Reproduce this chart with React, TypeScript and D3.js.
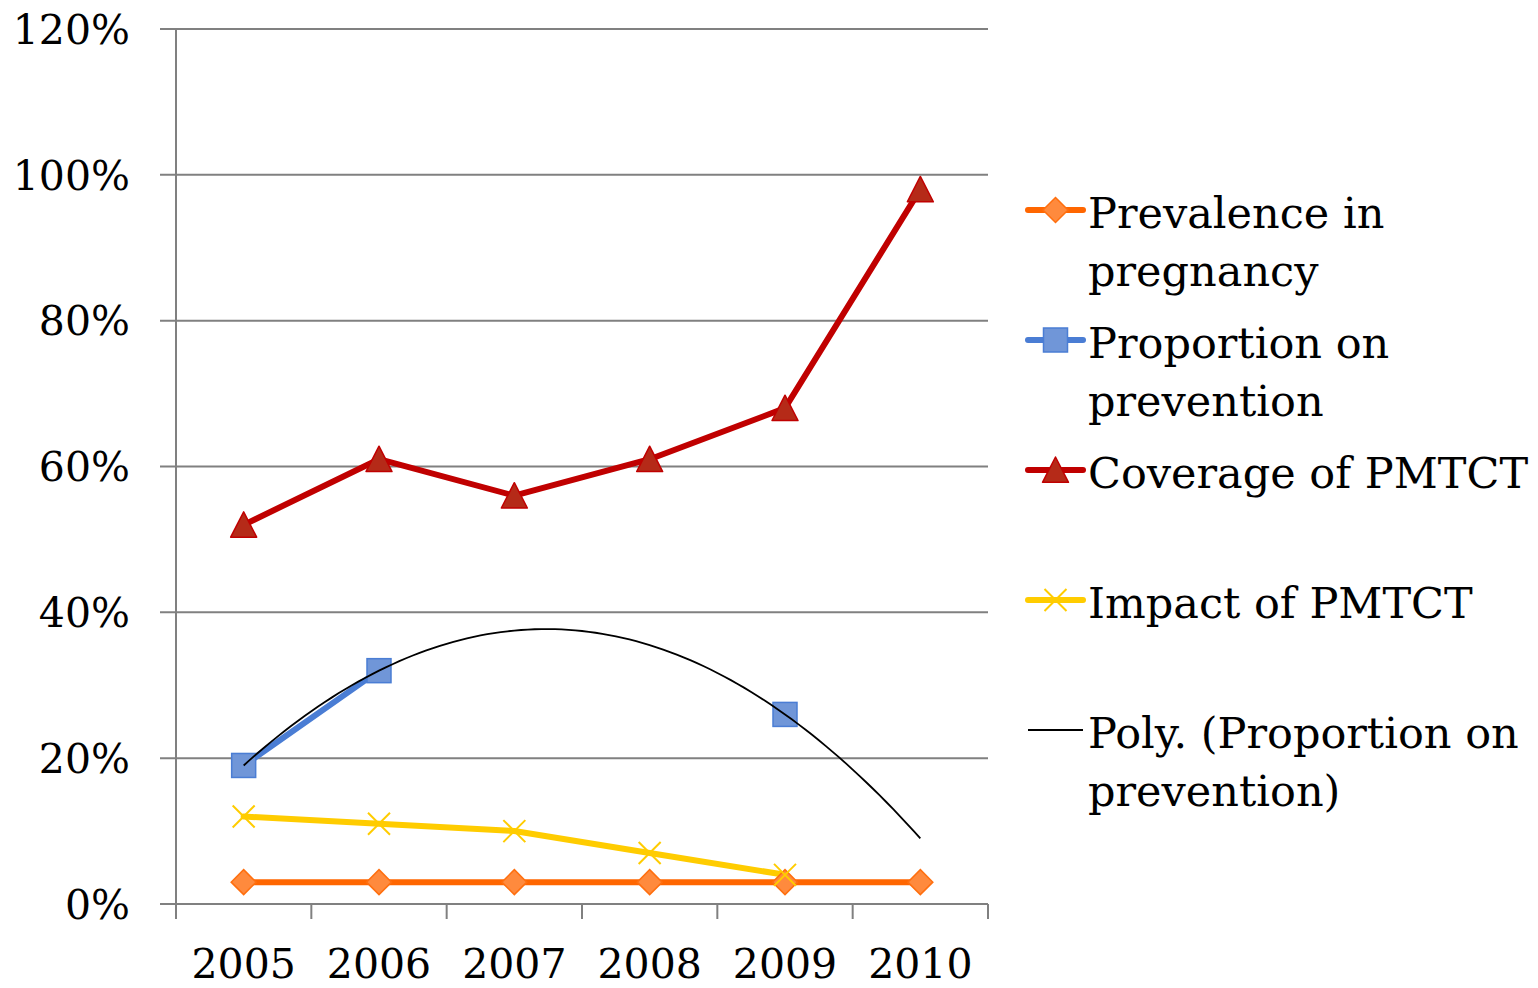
import React from "react";
import * as d3 from "d3";

const years = ["2005", "2006", "2007", "2008", "2009", "2010"];
const prevalence = [0.03, 0.03, 0.03, 0.03, 0.03, 0.03];
const proportion: (number | null)[] = [0.19, 0.32, null, null, 0.26, null];
const coverage = [0.52, 0.61, 0.56, 0.61, 0.68, 0.98];
const impact: (number | null)[] = [0.12, 0.11, 0.1, 0.07, 0.04, null];
const yTicks = [0, 0.2, 0.4, 0.6, 0.8, 1.0, 1.2];

const FONT = "'DejaVu Serif', serif";
const FS = 41;
const LFS = 43;
const LW = 6;

// least-squares quadratic fit (Excel "Poly." order 2 trendline)
function polyFit(vals: (number | null)[]) {
  const pts = vals
    .map((v, i) => [i + 1, v] as [number, number | null])
    .filter((p) => p[1] != null) as [number, number][];
  const S = (k: number) => d3.sum(pts, (p) => Math.pow(p[0], k));
  const T = (k: number) => d3.sum(pts, (p) => Math.pow(p[0], k) * p[1]);
  const A = [
    [S(4), S(3), S(2), T(2)],
    [S(3), S(2), S(1), T(1)],
    [S(2), S(1), S(0), T(0)],
  ];
  for (let i = 0; i < 3; i++) {
    let m = i;
    for (let r = i + 1; r < 3; r++) if (Math.abs(A[r][i]) > Math.abs(A[m][i])) m = r;
    [A[i], A[m]] = [A[m], A[i]];
    for (let r = 0; r < 3; r++) {
      if (r === i) continue;
      const f = A[r][i] / A[i][i];
      for (let c = i; c < 4; c++) A[r][c] -= f * A[i][c];
    }
  }
  const a = A[0][3] / A[0][0], b = A[1][3] / A[1][1], c = A[2][3] / A[2][2];
  return (x: number) => a * x * x + b * x + c;
}

const W = 1538, H = 988;
const left = 176, right = 988, top = 29, bottom = 904;

export default function App() {
  const x = d3.scaleBand<string>().domain(years).range([left, right]).paddingInner(0).paddingOuter(0);
  const bw = x.bandwidth();
  const cx = (i: number) => (x(years[i]) as number) + bw / 2;
  const y = d3.scaleLinear().domain([0, 1.2]).range([bottom, top]);

  const line = d3
    .line<number | null>()
    .defined((d) => d != null)
    .x((_, i) => cx(i))
    .y((d) => y(d as number));

  const fit = polyFit(proportion);
  const trendIdx = d3.range(1, 6.0001, 0.05);
  const trendLine = d3
    .line<number>()
    .x((t) => cx(0) + (t - 1) * bw)
    .y((t) => y(fit(t)));

  const series = [
    { name: ["Prevalence in", "pregnancy"], data: prevalence, color: "#FF6600", fill: "#FF8A3D", stroke: "#FF6F0F", marker: "diamond" },
    { name: ["Proportion on", "prevention"], data: proportion, color: "#4A7DD4", fill: "#7096D8", stroke: "#4A7DD4", marker: "square" },
    { name: ["Coverage of PMTCT"], data: coverage, color: "#C00000", fill: "#B52A18", stroke: "#C00000", marker: "triangle" },
    { name: ["Impact of PMTCT"], data: impact, color: "#FFCC00", fill: "none", stroke: "#FFCC00", marker: "x" },
  ];

  const marker = (type: string, px: number, py: number, fill: string, stroke: string, key: string) => {
    if (type === "diamond") {
      const s = 12.5;
      return <path key={key} d={`M${px},${py - s}L${px + s},${py}L${px},${py + s}L${px - s},${py}Z`} fill={fill} stroke={stroke} strokeWidth={1.5} />;
    }
    if (type === "square") {
      const s = 12;
      return <rect key={key} x={px - s} y={py - s} width={2 * s} height={2 * s} fill={fill} stroke={stroke} strokeWidth={1.5} />;
    }
    if (type === "triangle") {
      const s = 13;
      return <path key={key} d={`M${px},${py - s}L${px + s},${py + s * 0.95}L${px - s},${py + s * 0.95}Z`} fill={fill} stroke={stroke} strokeWidth={1.5} strokeLinejoin="round" />;
    }
    const s = 11;
    return <path key={key} d={`M${px - s},${py - s}L${px + s},${py + s}M${px + s},${py - s}L${px - s},${py + s}`} stroke={stroke} strokeWidth={2} fill="none" />;
  };

  const legendX = 1028, legendTextX = 1088;
  const legendYs = [210, 340, 470, 600, 730];
  const lineH = 58;

  return (
    <svg width={W} height={H} style={{ position: "absolute", left: 0, top: 0, background: "#fff" }} fontFamily={FONT}>
      {yTicks.map((t) => (
        <g key={t}>
          <line x1={160} x2={right} y1={y(t)} y2={y(t)} stroke="#808080" strokeWidth={2} />
          <text x={130} y={y(t)} dy="0.36em" textAnchor="end" fontSize={FS} fill="#000">
            {d3.format(".0%")(t)}
          </text>
        </g>
      ))}
      <line x1={left} x2={left} y1={top} y2={bottom} stroke="#808080" strokeWidth={2} />
      {years.map((yr) => (
        <line key={yr} x1={x(yr) as number} x2={x(yr) as number} y1={bottom} y2={bottom + 15} stroke="#808080" strokeWidth={2} />
      ))}
      <line x1={right} x2={right} y1={bottom} y2={bottom + 15} stroke="#808080" strokeWidth={2} />
      {years.map((yr, i) => (
        <text key={yr} x={cx(i)} y={978} textAnchor="middle" fontSize={FS} fill="#000">
          {yr}
        </text>
      ))}

      {series.map((s) => (
        <path key={s.name[0]} d={line(s.data) || ""} fill="none" stroke={s.color} strokeWidth={LW} strokeLinejoin="round" strokeLinecap="round" />
      ))}
      {series.map((s) =>
        s.data.map((v, i) => (v == null ? null : marker(s.marker, cx(i), y(v), s.fill, s.stroke, s.name[0] + i)))
      )}
      <path d={trendLine(trendIdx) || ""} fill="none" stroke="#000" strokeWidth={1.8} />

      {series.map((s, k) => (
        <g key={"lg" + k}>
          <line x1={legendX} x2={legendX + 55} y1={legendYs[k]} y2={legendYs[k]} stroke={s.color} strokeWidth={LW} strokeLinecap="round" />
          {marker(s.marker, legendX + 27.5, legendYs[k], s.fill, s.stroke, "lm" + k)}
          {s.name.map((ln, j) => (
            <text key={j} x={legendTextX} y={legendYs[k] + 18 + j * lineH} fontSize={LFS} fill="#000">
              {ln}
            </text>
          ))}
        </g>
      ))}
      <g>
        <line x1={legendX} x2={legendX + 55} y1={legendYs[4]} y2={legendYs[4]} stroke="#000" strokeWidth={1.8} />
        {["Poly. (Proportion on", "prevention)"].map((ln, j) => (
          <text key={j} x={legendTextX} y={legendYs[4] + 18 + j * lineH} fontSize={LFS} fill="#000">
            {ln}
          </text>
        ))}
      </g>
    </svg>
  );
}
